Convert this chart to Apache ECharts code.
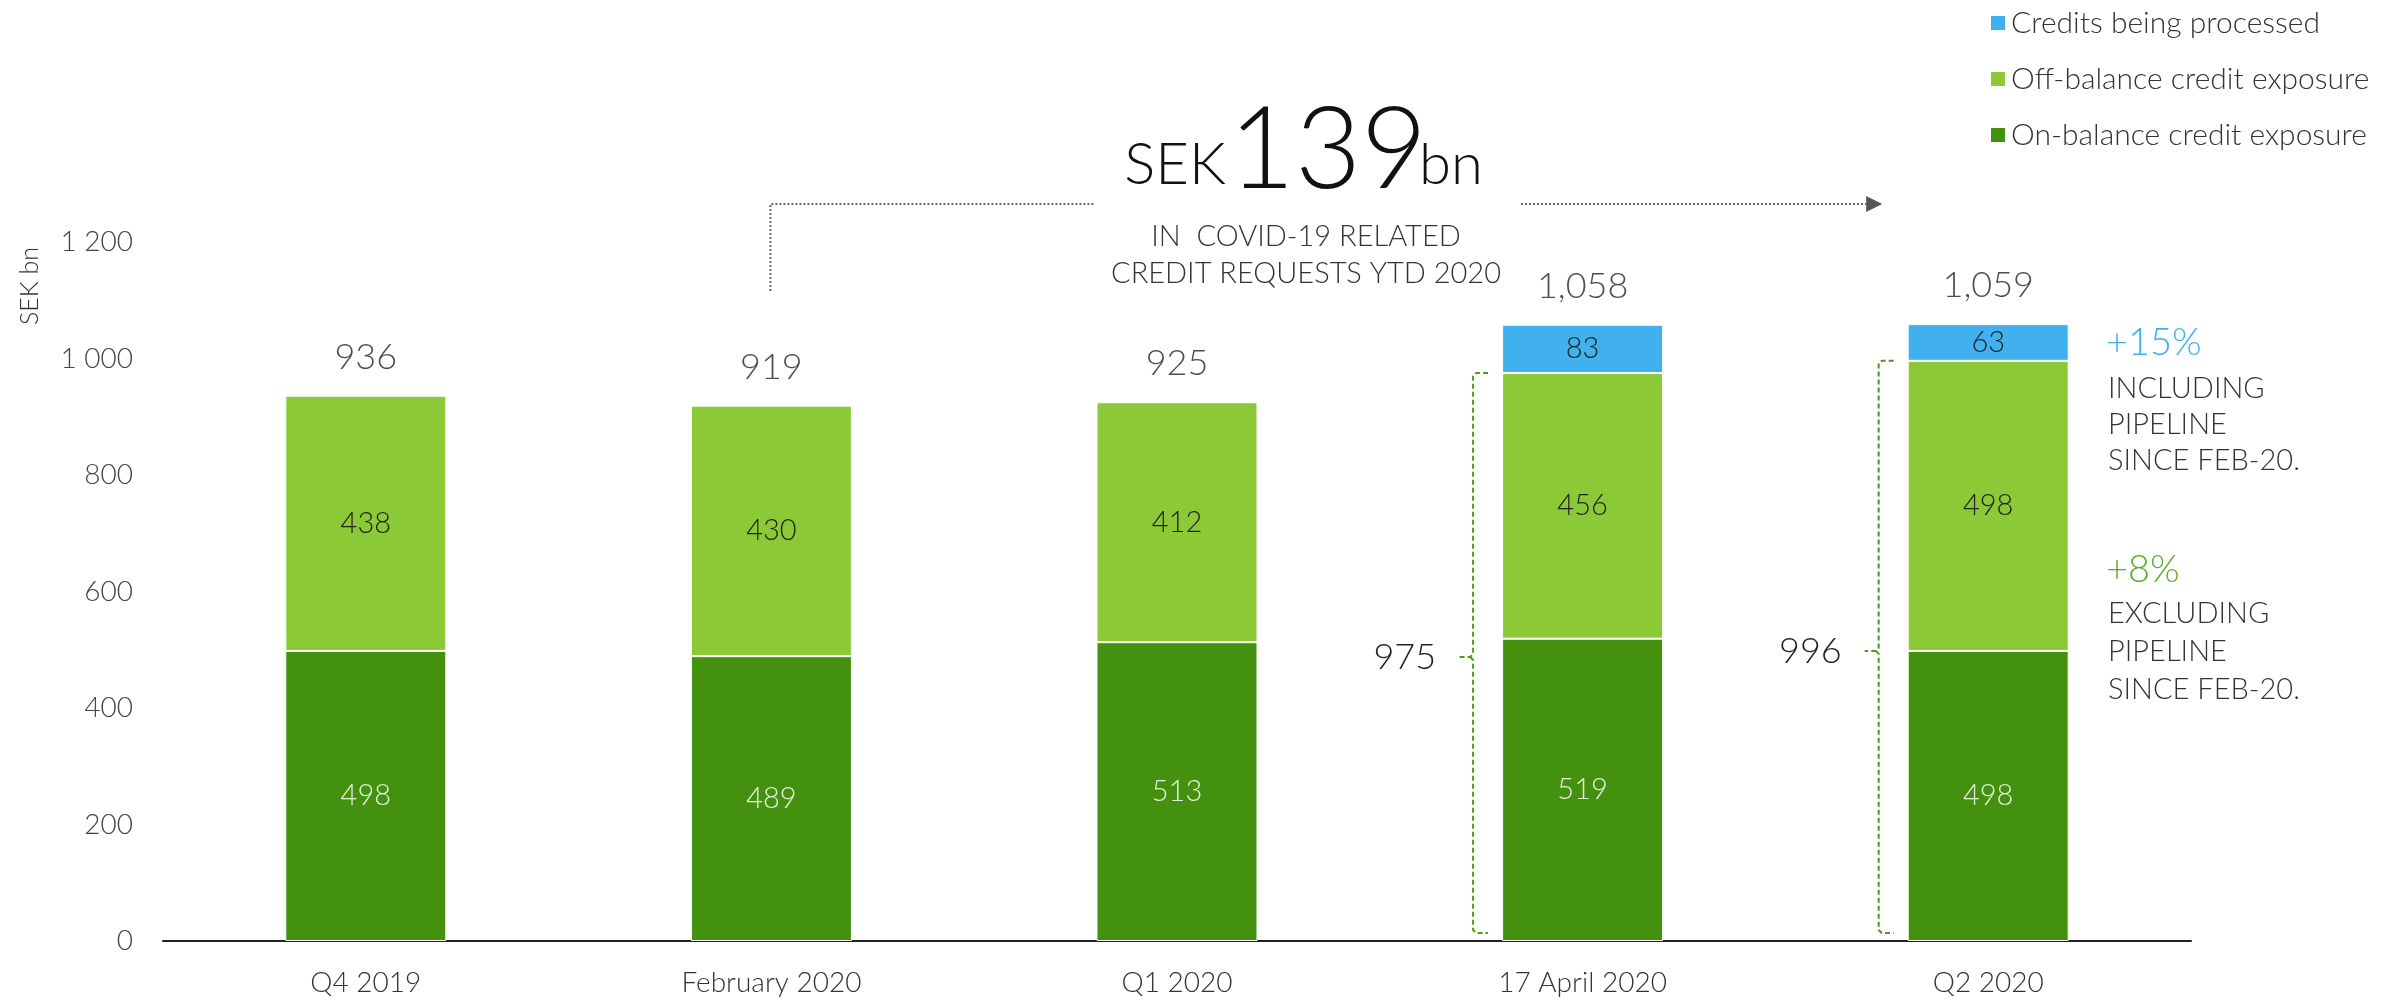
<!DOCTYPE html>
<html>
<head>
<meta charset="utf-8">
<title>Credit exposure</title>
<script src="https://cdn.jsdelivr.net/npm/echarts@6/dist/echarts.min.js"></script>
<style>
  html, body { margin: 0; padding: 0; background: #fff; }
  #main { width: 2402px; height: 1003px; }
</style>
</head>
<body>
<div id="main"></div>
<script>
// data
var categories = ['Q4 2019', 'February 2020', 'Q1 2020', '17 April 2020', 'Q2 2020'];
var onBalance = [498, 489, 513, 519, 498];
var offBalance = [438, 430, 412, 456, 498];
var processing = [null, null, null, 83, 63];
var totals = [936, 919, 925, 1058, 1059];
// brackets: category, on+off total
var brackets = [['17 April 2020', 975], ['Q2 2020', 996]];
var yTicks = [0, 200, 400, 600, 800, 1000, 1200];

var FONT = 'Lato';
var DARK = '#43910e', LIGHT = '#8bca36', BLUE = '#41b0ee';

var chart = echarts.init(document.getElementById('main'));

function bracketItem(params, api) {
  var idx = api.value(0);
  var top = api.coord([idx, api.value(1)]);
  var bot = api.coord([idx, 0]);
  var mid = api.coord([idx, api.value(1) / 2]);
  var barW = api.size([1, 0])[0] * 0.397;
  var vx = top[0] - barW / 2 - 29;
  var ty = top[1], by = bot[1] - 8, my = mid[1];
  var style = { stroke: '#4d9a1f', lineWidth: 2, lineDash: [5, 3], fill: null };
  return {
    type: 'group',
    children: [
      { type: 'polyline', shape: { points: [[vx + 15, ty], [vx + 3, ty], [vx, ty + 3], [vx, my - 3], [vx - 3, my], [vx - 14, my]] }, style: style },
      { type: 'polyline', shape: { points: [[vx - 3, my], [vx, my + 3], [vx, by - 3], [vx + 3, by], [vx + 15, by]] }, style: style },
      { type: 'text', x: vx - 37, y: my, style: { text: String(api.value(1)), fontFamily: FONT, fontWeight: 300, fontSize: 36, fill: '#222', align: 'right', verticalAlign: 'middle' } }
    ]
  };
}

var option = {
  animation: false,
  grid: { left: 163, right: 211, top: 242, bottom: 62 },
  legend: {
    data: ['Credits being processed', 'Off-balance credit exposure', 'On-balance credit exposure'],
    orient: 'vertical',
    left: 1984,
    top: 3,
    itemWidth: 16,
    itemHeight: 16,
    itemGap: 26,
    icon: 'rect',
    textStyle: { fontFamily: FONT, fontWeight: 300, fontSize: 30, color: '#333', padding: [0, 0, 0, 0] }
  },
  xAxis: {
    type: 'category',
    data: categories,
    axisLine: { lineStyle: { color: '#222', width: 2 } },
    axisTick: { show: false },
    axisLabel: { fontFamily: FONT, fontWeight: 300, fontSize: 28, color: '#333', margin: 28 }
  },
  yAxis: {
    type: 'value',
    min: yTicks[0],
    max: yTicks[yTicks.length - 1],
    interval: 200,
    splitLine: { show: false },
    axisLine: { show: false },
    axisLabel: {
      fontFamily: FONT, fontWeight: 300, fontSize: 28, color: '#444', margin: 30,
      formatter: function (v) { return String(v).replace(/\B(?=(\d{3})+$)/g, ' '); }
    }
  },
  series: [
    {
      name: 'On-balance credit exposure', type: 'bar', stack: 'c', data: onBalance,
      barWidth: '39.7%', itemStyle: { color: DARK, borderColor: '#fff', borderWidth: 1 },
      label: { show: true, position: 'inside', fontFamily: FONT, fontWeight: 300, fontSize: 29, color: '#e4f1da' }
    },
    {
      name: 'Off-balance credit exposure', type: 'bar', stack: 'c', data: offBalance,
      itemStyle: { color: LIGHT, borderColor: '#fff', borderWidth: 1 },
      label: { show: true, position: 'inside', fontFamily: FONT, fontWeight: 300, fontSize: 29, color: '#222' }
    },
    {
      name: 'Credits being processed', type: 'bar', stack: 'c', data: processing,
      itemStyle: { color: BLUE, borderColor: '#fff', borderWidth: 1 },
      label: { show: true, position: 'inside', fontFamily: FONT, fontWeight: 300, fontSize: 29, color: '#222' }
    },
    {
      name: 'total', type: 'scatter', data: totals, symbolSize: 1,
      itemStyle: { color: 'rgba(0,0,0,0)' },
      label: {
        show: true, position: 'top', distance: 20,
        fontFamily: FONT, fontWeight: 300, fontSize: 36, color: '#222',
        formatter: function (p) { return p.value.toLocaleString('en-US'); }
      }
    },
    {
      name: 'bracket', type: 'custom', data: brackets, renderItem: bracketItem, z: 5
    }
  ]
};
chart.setOption(option);

// annotation above the bars
var febX = chart.convertToPixel({ xAxisIndex: 0 }, categories[1]);
var q2X = chart.convertToPixel({ xAxisIndex: 0 }, categories[4]);
var dotted = { stroke: '#666', lineWidth: 2, lineDash: [2, 2] };
var small = { fontFamily: FONT, fontWeight: 300, fontSize: 29, fill: '#333' };

chart.setOption({
  graphic: [
    { type: 'polyline', shape: { points: [[febX - 1, 291], [febX - 1, 204], [1094, 204]] }, style: dotted },
    { type: 'line', shape: { x1: 1521, y1: 204, x2: q2X - 122, y2: 204 }, style: dotted },
    { type: 'polygon', shape: { points: [[q2X - 122, 196], [q2X - 106, 204], [q2X - 122, 212]] }, style: { fill: '#555' } },
    { type: 'text', x: 1175, y: 194, style: { text: 'SEK', fontFamily: FONT, fontWeight: 300, fontSize: 58, fill: '#111', align: 'center', verticalAlign: 'bottom' } },
    { type: 'text', x: 1328, y: 208, style: { text: '139', fontFamily: FONT, fontWeight: 300, fontSize: 114, fill: '#111', align: 'center', verticalAlign: 'bottom' } },
    { type: 'text', x: 1451, y: 194, style: { text: 'bn', fontFamily: FONT, fontWeight: 300, fontSize: 58, fill: '#111', align: 'center', verticalAlign: 'bottom' } },
    { type: 'text', x: 1306, y: 237, style: Object.assign({ text: 'IN  COVID-19 RELATED', align: 'center', verticalAlign: 'middle' }, small) },
    { type: 'text', x: 1306, y: 274, style: Object.assign({ text: 'CREDIT REQUESTS YTD 2020', align: 'center', verticalAlign: 'middle' }, small) },
    { type: 'text', x: 30, y: 286, rotation: Math.PI / 2, style: { text: 'SEK bn', fontFamily: FONT, fontWeight: 300, fontSize: 25, fill: '#333', align: 'center', verticalAlign: 'middle' } },
    { type: 'text', x: 2106, y: 343, style: { text: '+15%', fontFamily: FONT, fontWeight: 300, fontSize: 38, fill: BLUE, verticalAlign: 'middle' } },
    { type: 'text', x: 2108, y: 371, style: Object.assign({ text: 'INCLUDING\nPIPELINE\nSINCE FEB-20.', verticalAlign: 'top', lineHeight: 36 }, small, { y: 0 }) },
    { type: 'text', x: 2106, y: 570, style: { text: '+8%', fontFamily: FONT, fontWeight: 300, fontSize: 38, fill: '#5fad2d', verticalAlign: 'middle' } },
    { type: 'text', x: 2108, y: 595, style: Object.assign({ text: 'EXCLUDING\nPIPELINE\nSINCE FEB-20.', verticalAlign: 'top', lineHeight: 38 }, small, { y: 0 }) }
  ]
});
</script>
</body>
</html>
